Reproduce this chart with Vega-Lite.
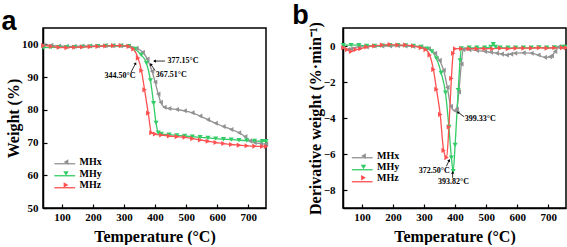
{
  "$schema": "https://vega.github.io/schema/vega-lite/v6.json",
  "padding": {"left": 0, "top": 0, "right": 0, "bottom": 0},
  "background": "white",
  "config": {
    "font": "Liberation Serif",
    "view": {"stroke": "black", "strokeWidth": 1.5},
    "axis": {"domainColor": "black", "domainWidth": 1.5, "tickColor": "black", "tickWidth": 1.2, "tickSize": -4, "labelPadding": 8, "labelFont": "Liberation Serif", "labelFontSize": 11, "labelFontWeight": "bold", "labelColor": "black", "titleFont": "Liberation Serif", "titleFontSize": 16, "titleFontWeight": "bold", "titleColor": "black", "grid": false},
    "title": {"font": "Liberation Sans", "fontSize": 27, "fontWeight": "bold", "anchor": "start", "color": "black", "offset": -8},
    "text": {"font": "Liberation Serif", "fontSize": 8, "fontWeight": "bold", "color": "black"},
    "legend": {"orient": "none", "title": null, "padding": 0, "labelFont": "Liberation Serif", "labelFontSize": 10, "labelFontWeight": "bold", "labelColor": "black", "symbolSize": 30, "labelOffset": 8.5, "symbolStrokeWidth": 1.3, "symbolOpacity": 1}
  },
  "datasets": {
    "tga": [
      {"T": 40, "v": 99.8, "s": "MHx"}, {"T": 65, "v": 99.7, "s": "MHx"}, {"T": 90, "v": 99.5, "s": "MHx"}, {"T": 115, "v": 99.4, "s": "MHx"}, {"T": 140, "v": 99.4, "s": "MHx"}, {"T": 165, "v": 99.5, "s": "MHx"}, {"T": 190, "v": 99.5, "s": "MHx"}, {"T": 215, "v": 99.5, "s": "MHx"}, {"T": 240, "v": 99.6, "s": "MHx"}, {"T": 265, "v": 99.6, "s": "MHx"}, {"T": 290, "v": 99.6, "s": "MHx"}, {"T": 315, "v": 99.4, "s": "MHx"}, {"T": 340, "v": 98.8, "s": "MHx"}, {"T": 360, "v": 97.6, "s": "MHx"}, {"T": 375, "v": 95.5, "s": "MHx"}, {"T": 390, "v": 91.8, "s": "MHx"}, {"T": 400, "v": 88.5, "s": "MHx"}, {"T": 410, "v": 84.8, "s": "MHx"}, {"T": 418, "v": 82.3, "s": "MHx"}, {"T": 430, "v": 80.8, "s": "MHx"}, {"T": 445, "v": 80.4, "s": "MHx"}, {"T": 470, "v": 80.1, "s": "MHx"}, {"T": 495, "v": 79.7, "s": "MHx"}, {"T": 520, "v": 79.1, "s": "MHx"}, {"T": 545, "v": 78.1, "s": "MHx"}, {"T": 570, "v": 77.0, "s": "MHx"}, {"T": 595, "v": 75.9, "s": "MHx"}, {"T": 620, "v": 74.9, "s": "MHx"}, {"T": 645, "v": 74.0, "s": "MHx"}, {"T": 670, "v": 73.0, "s": "MHx"}, {"T": 690, "v": 71.8, "s": "MHx"}, {"T": 705, "v": 70.5, "s": "MHx"}, {"T": 720, "v": 70.0, "s": "MHx"}, {"T": 740, "v": 69.7, "s": "MHx"}, {"T": 757, "v": 69.6, "s": "MHx"},
      {"T": 40, "v": 99.0, "s": "MHy"}, {"T": 65, "v": 99.1, "s": "MHy"}, {"T": 90, "v": 99.1, "s": "MHy"}, {"T": 115, "v": 99.1, "s": "MHy"}, {"T": 140, "v": 99.1, "s": "MHy"}, {"T": 165, "v": 99.2, "s": "MHy"}, {"T": 190, "v": 99.3, "s": "MHy"}, {"T": 215, "v": 99.4, "s": "MHy"}, {"T": 240, "v": 99.5, "s": "MHy"}, {"T": 265, "v": 99.5, "s": "MHy"}, {"T": 290, "v": 99.5, "s": "MHy"}, {"T": 315, "v": 99.4, "s": "MHy"}, {"T": 335, "v": 98.6, "s": "MHy"}, {"T": 355, "v": 96.8, "s": "MHy"}, {"T": 372, "v": 94.3, "s": "MHy"}, {"T": 385, "v": 89.0, "s": "MHy"}, {"T": 395, "v": 82.0, "s": "MHy"}, {"T": 403, "v": 76.0, "s": "MHy"}, {"T": 410, "v": 73.0, "s": "MHy"}, {"T": 420, "v": 72.6, "s": "MHy"}, {"T": 445, "v": 72.4, "s": "MHy"}, {"T": 470, "v": 72.2, "s": "MHy"}, {"T": 495, "v": 72.0, "s": "MHy"}, {"T": 520, "v": 71.8, "s": "MHy"}, {"T": 545, "v": 71.6, "s": "MHy"}, {"T": 570, "v": 71.4, "s": "MHy"}, {"T": 595, "v": 71.2, "s": "MHy"}, {"T": 620, "v": 71.0, "s": "MHy"}, {"T": 645, "v": 70.9, "s": "MHy"}, {"T": 670, "v": 70.7, "s": "MHy"}, {"T": 695, "v": 70.6, "s": "MHy"}, {"T": 720, "v": 70.5, "s": "MHy"}, {"T": 745, "v": 70.4, "s": "MHy"}, {"T": 757, "v": 70.4, "s": "MHy"},
      {"T": 40, "v": 99.6, "s": "MHz"}, {"T": 65, "v": 99.4, "s": "MHz"}, {"T": 90, "v": 99.1, "s": "MHz"}, {"T": 115, "v": 99.0, "s": "MHz"}, {"T": 140, "v": 99.1, "s": "MHz"}, {"T": 165, "v": 99.2, "s": "MHz"}, {"T": 190, "v": 99.3, "s": "MHz"}, {"T": 215, "v": 99.4, "s": "MHz"}, {"T": 240, "v": 99.5, "s": "MHz"}, {"T": 265, "v": 99.6, "s": "MHz"}, {"T": 290, "v": 99.6, "s": "MHz"}, {"T": 315, "v": 99.4, "s": "MHz"}, {"T": 330, "v": 98.6, "s": "MHz"}, {"T": 345, "v": 95.8, "s": "MHz"}, {"T": 356, "v": 92.0, "s": "MHz"}, {"T": 366, "v": 86.1, "s": "MHz"}, {"T": 378, "v": 79.0, "s": "MHz"}, {"T": 388, "v": 73.0, "s": "MHz"}, {"T": 400, "v": 72.6, "s": "MHz"}, {"T": 420, "v": 72.3, "s": "MHz"}, {"T": 445, "v": 72.0, "s": "MHz"}, {"T": 470, "v": 71.8, "s": "MHz"}, {"T": 495, "v": 71.6, "s": "MHz"}, {"T": 520, "v": 71.2, "s": "MHz"}, {"T": 545, "v": 70.8, "s": "MHz"}, {"T": 570, "v": 70.4, "s": "MHz"}, {"T": 595, "v": 70.0, "s": "MHz"}, {"T": 620, "v": 69.7, "s": "MHz"}, {"T": 645, "v": 69.4, "s": "MHz"}, {"T": 670, "v": 69.2, "s": "MHz"}, {"T": 695, "v": 69.0, "s": "MHz"}, {"T": 720, "v": 68.9, "s": "MHz"}, {"T": 745, "v": 68.8, "s": "MHz"}, {"T": 757, "v": 68.8, "s": "MHz"}
    ],
    "dtg": [
      {"T": 40, "v": -0.1, "s": "MHx"}, {"T": 55, "v": -0.2, "s": "MHx"}, {"T": 65, "v": -0.15, "s": "MHx"}, {"T": 90, "v": -0.05, "s": "MHx"}, {"T": 115, "v": -0.05, "s": "MHx"}, {"T": 140, "v": 0.0, "s": "MHx"}, {"T": 165, "v": 0.0, "s": "MHx"}, {"T": 190, "v": 0.0, "s": "MHx"}, {"T": 215, "v": 0.02, "s": "MHx"}, {"T": 240, "v": 0.0, "s": "MHx"}, {"T": 265, "v": -0.02, "s": "MHx"}, {"T": 290, "v": -0.05, "s": "MHx"}, {"T": 315, "v": -0.15, "s": "MHx"}, {"T": 335, "v": -0.4, "s": "MHx"}, {"T": 350, "v": -0.8, "s": "MHx"}, {"T": 363, "v": -1.35, "s": "MHx"}, {"T": 375, "v": -2.3, "s": "MHx"}, {"T": 386, "v": -3.35, "s": "MHx"}, {"T": 399.33, "v": -3.6, "s": "MHx"}, {"T": 405, "v": -3.5, "s": "MHx"}, {"T": 412, "v": -2.55, "s": "MHx"}, {"T": 420, "v": -1.0, "s": "MHx"}, {"T": 426, "v": -0.2, "s": "MHx"}, {"T": 445, "v": -0.2, "s": "MHx"}, {"T": 470, "v": -0.25, "s": "MHx"}, {"T": 496, "v": -0.3, "s": "MHx"}, {"T": 515, "v": -0.35, "s": "MHx"}, {"T": 534, "v": -0.4, "s": "MHx"}, {"T": 550, "v": -0.45, "s": "MHx"}, {"T": 566, "v": -0.5, "s": "MHx"}, {"T": 580, "v": -0.45, "s": "MHx"}, {"T": 593, "v": -0.4, "s": "MHx"}, {"T": 620, "v": -0.38, "s": "MHx"}, {"T": 646, "v": -0.4, "s": "MHx"}, {"T": 668, "v": -0.5, "s": "MHx"}, {"T": 689, "v": -0.63, "s": "MHx"}, {"T": 705, "v": -0.6, "s": "MHx"}, {"T": 711, "v": -0.55, "s": "MHx"}, {"T": 722, "v": -0.3, "s": "MHx"}, {"T": 733, "v": -0.05, "s": "MHx"}, {"T": 745, "v": -0.05, "s": "MHx"}, {"T": 757, "v": -0.05, "s": "MHx"},
      {"T": 40, "v": 0.05, "s": "MHy"}, {"T": 65, "v": 0.05, "s": "MHy"}, {"T": 90, "v": 0.05, "s": "MHy"}, {"T": 115, "v": 0.0, "s": "MHy"}, {"T": 140, "v": 0.0, "s": "MHy"}, {"T": 165, "v": 0.02, "s": "MHy"}, {"T": 190, "v": 0.05, "s": "MHy"}, {"T": 215, "v": 0.05, "s": "MHy"}, {"T": 240, "v": 0.03, "s": "MHy"}, {"T": 265, "v": 0.0, "s": "MHy"}, {"T": 290, "v": -0.05, "s": "MHy"}, {"T": 310, "v": -0.15, "s": "MHy"}, {"T": 325, "v": -0.3, "s": "MHy"}, {"T": 340, "v": -0.7, "s": "MHy"}, {"T": 355, "v": -1.5, "s": "MHy"}, {"T": 369, "v": -2.6, "s": "MHy"}, {"T": 380, "v": -4.5, "s": "MHy"}, {"T": 388, "v": -6.2, "s": "MHy"}, {"T": 393.82, "v": -6.95, "s": "MHy"}, {"T": 400, "v": -5.5, "s": "MHy"}, {"T": 410, "v": -2.45, "s": "MHy"}, {"T": 416, "v": -0.8, "s": "MHy"}, {"T": 420, "v": -0.13, "s": "MHy"}, {"T": 445, "v": -0.1, "s": "MHy"}, {"T": 470, "v": -0.1, "s": "MHy"}, {"T": 495, "v": -0.1, "s": "MHy"}, {"T": 515, "v": -0.05, "s": "MHy"}, {"T": 523, "v": 0.1, "s": "MHy"}, {"T": 530, "v": -0.05, "s": "MHy"}, {"T": 545, "v": -0.1, "s": "MHy"}, {"T": 570, "v": -0.1, "s": "MHy"}, {"T": 595, "v": -0.1, "s": "MHy"}, {"T": 620, "v": -0.1, "s": "MHy"}, {"T": 645, "v": -0.1, "s": "MHy"}, {"T": 670, "v": -0.08, "s": "MHy"}, {"T": 695, "v": -0.1, "s": "MHy"}, {"T": 720, "v": -0.08, "s": "MHy"}, {"T": 745, "v": -0.05, "s": "MHy"}, {"T": 757, "v": -0.05, "s": "MHy"},
      {"T": 40, "v": -0.1, "s": "MHz"}, {"T": 52, "v": -0.2, "s": "MHz"}, {"T": 65, "v": -0.3, "s": "MHz"}, {"T": 80, "v": -0.2, "s": "MHz"}, {"T": 95, "v": -0.15, "s": "MHz"}, {"T": 115, "v": -0.05, "s": "MHz"}, {"T": 140, "v": 0.0, "s": "MHz"}, {"T": 165, "v": 0.05, "s": "MHz"}, {"T": 190, "v": 0.08, "s": "MHz"}, {"T": 215, "v": 0.05, "s": "MHz"}, {"T": 240, "v": 0.05, "s": "MHz"}, {"T": 265, "v": 0.0, "s": "MHz"}, {"T": 290, "v": -0.1, "s": "MHz"}, {"T": 305, "v": -0.2, "s": "MHz"}, {"T": 318, "v": -0.5, "s": "MHz"}, {"T": 330, "v": -1.3, "s": "MHz"}, {"T": 340, "v": -2.4, "s": "MHz"}, {"T": 352, "v": -3.8, "s": "MHz"}, {"T": 363, "v": -5.8, "s": "MHz"}, {"T": 372.5, "v": -6.2, "s": "MHz"}, {"T": 380, "v": -4.5, "s": "MHz"}, {"T": 388, "v": -1.8, "s": "MHz"}, {"T": 394, "v": -0.4, "s": "MHz"}, {"T": 400, "v": -0.15, "s": "MHz"}, {"T": 420, "v": -0.15, "s": "MHz"}, {"T": 445, "v": -0.15, "s": "MHz"}, {"T": 470, "v": -0.15, "s": "MHz"}, {"T": 495, "v": -0.15, "s": "MHz"}, {"T": 520, "v": -0.15, "s": "MHz"}, {"T": 545, "v": -0.12, "s": "MHz"}, {"T": 570, "v": -0.15, "s": "MHz"}, {"T": 595, "v": -0.12, "s": "MHz"}, {"T": 620, "v": -0.12, "s": "MHz"}, {"T": 645, "v": -0.12, "s": "MHz"}, {"T": 670, "v": -0.1, "s": "MHz"}, {"T": 695, "v": -0.12, "s": "MHz"}, {"T": 720, "v": -0.1, "s": "MHz"}, {"T": 745, "v": -0.1, "s": "MHz"}, {"T": 757, "v": -0.1, "s": "MHz"}
    ],
    "notesA": [
      {"T": 440, "v": 94.9, "text": "377.15°C"},
      {"T": 402, "v": 90.6, "text": "367.51°C"},
      {"T": 237, "v": 90.2, "text": "344.50°C"}
    ],
    "arrowsA": [
      {"T": 432, "v": 94.9, "T2": 398, "v2": 94.9, "dir": "left"},
      {"T": 400, "v": 92.0, "T2": 386, "v2": 93.9, "dir": "upleft"},
      {"T": 322, "v": 91.4, "T2": 337, "v2": 94.2, "dir": "upright"}
    ],
    "notesB": [
      {"T": 431, "v": -4.06, "text": "399.33°C"},
      {"T": 283, "v": -6.92, "text": "372.50°C"},
      {"T": 345, "v": -7.57, "text": "393.82°C"}
    ],
    "arrowsB": [
      {"T": 429, "v": -3.93, "T2": 409, "v2": -3.68, "dir": "upleft"},
      {"T": 372, "v": -6.68, "T2": 381, "v2": -6.35, "dir": "upright"},
      {"T": 392, "v": -7.32, "T2": 392, "v2": -7.02, "dir": "up"}
    ]
  },
  "bounds": "flush",
  "spacing": 77,
  "resolve": {"scale": {"stroke": "independent", "fill": "independent", "shape": "independent"}, "legend": {"stroke": "independent", "fill": "independent", "shape": "independent"}},
  "hconcat": [
    {
      "title": {"text": "a", "dx": -4, "offset": -8},
      "width": 223,
      "height": 180,
      "encoding": {
        "x": {"field": "T", "type": "quantitative", "scale": {"domain": [39, 757], "nice": false, "zero": false}, "axis": {"values": [100, 200, 300, 400, 500, 600, 700], "title": "Temperature (°C)", "labelPadding": 7, "titlePadding": 6}},
        "y": {"field": "v", "type": "quantitative", "scale": {"domain": [50, 105], "nice": false, "zero": false}, "axis": {"values": [50, 60, 70, 80, 90, 100], "title": "Weight (%)", "labelPadding": 9, "titlePadding": 0}}
      },
      "layer": [
        {
          "data": {"name": "tga"},
          "mark": {"type": "line", "strokeWidth": 1.3, "interpolate": "monotone"},
          "encoding": {
            "stroke": {"field": "s", "type": "nominal", "scale": {"range": ["#929292", "#33cc66", "#ff5050"]},
              "legend": {"legendX": 14.75, "legendY": 128.75, "rowPadding": 0, "symbolSize": 144, "symbolType": "M-1.73,0L1.73,0", "labelExpr": "''"}}
          }
        },
        {
          "data": {"name": "tga"},
          "mark": {"type": "point", "filled": true, "size": 26, "opacity": 1},
          "encoding": {
            "fill": {"field": "s", "type": "nominal", "scale": {"domain": ["MHx", "MHy", "MHz"], "range": ["#929292", "#33cc66", "#ff5050"]},
              "legend": {"legendX": 18, "legendY": 129, "rowPadding": 0.5}},
            "shape": {"field": "s", "type": "nominal", "scale": {"domain": ["MHx", "MHy", "MHz"], "range": ["triangle-left", "triangle-down", "triangle-right"]},
              "legend": {"legendX": 18, "legendY": 129, "rowPadding": 0.5}}
          }
        },
        {
          "data": {"name": "notesA"},
          "mark": {"type": "text", "align": "left", "baseline": "middle"},
          "encoding": {"text": {"field": "text"}}
        },
        {
          "data": {"name": "arrowsA"},
          "mark": {"type": "rule", "color": "black", "strokeWidth": 0.8},
          "encoding": {"x2": {"field": "T2"}, "y2": {"field": "v2"}}
        },
        {
          "data": {"name": "arrowsA"},
          "transform": [{"filter": "datum.dir === 'left'"}],
          "mark": {"type": "point", "shape": "triangle-up", "filled": true, "color": "black", "size": 10, "opacity": 1, "angle": 270},
          "encoding": {"x": {"field": "T2", "type": "quantitative"}, "y": {"field": "v2", "type": "quantitative"}}
        },
        {
          "data": {"name": "arrowsA"},
          "transform": [{"filter": "datum.dir === 'upleft'"}],
          "mark": {"type": "point", "shape": "triangle-up", "filled": true, "color": "black", "size": 10, "opacity": 1, "angle": 320},
          "encoding": {"x": {"field": "T2", "type": "quantitative"}, "y": {"field": "v2", "type": "quantitative"}}
        },
        {
          "data": {"name": "arrowsA"},
          "transform": [{"filter": "datum.dir === 'upright'"}],
          "mark": {"type": "point", "shape": "triangle-up", "filled": true, "color": "black", "size": 10, "opacity": 1, "angle": 28},
          "encoding": {"x": {"field": "T2", "type": "quantitative"}, "y": {"field": "v2", "type": "quantitative"}}
        }
      ]
    },
    {
      "title": {"text": "b", "dx": -15, "offset": -8},
      "width": 223,
      "height": 180,
      "encoding": {
        "x": {"field": "T", "type": "quantitative", "scale": {"domain": [39, 757], "nice": false, "zero": false}, "axis": {"values": [100, 200, 300, 400, 500, 600, 700], "title": "Temperature (°C)", "labelPadding": 7, "titlePadding": 6}},
        "y": {"field": "v", "type": "quantitative", "scale": {"domain": [-9, 1], "nice": false, "zero": false}, "axis": {"values": [-8, -6, -4, -2, 0], "title": "Derivative weight (%·min⁻¹)", "labelPadding": 12, "titlePadding": 0}}
      },
      "layer": [
        {
          "data": {"name": "dtg"},
          "mark": {"type": "line", "strokeWidth": 1.3, "interpolate": "monotone"},
          "encoding": {
            "stroke": {"field": "s", "type": "nominal", "scale": {"range": ["#929292", "#33cc66", "#ff5050"]},
              "legend": {"legendX": 12.25, "legendY": 122.75, "rowPadding": -1.5, "symbolSize": 144, "symbolType": "M-1.73,0L1.73,0", "labelExpr": "''"}}
          }
        },
        {
          "data": {"name": "dtg"},
          "mark": {"type": "point", "filled": true, "size": 26, "opacity": 1},
          "encoding": {
            "fill": {"field": "s", "type": "nominal", "scale": {"domain": ["MHx", "MHy", "MHz"], "range": ["#929292", "#33cc66", "#ff5050"]},
              "legend": {"legendX": 15.5, "legendY": 123, "rowPadding": -0.3}},
            "shape": {"field": "s", "type": "nominal", "scale": {"domain": ["MHx", "MHy", "MHz"], "range": ["triangle-left", "triangle-down", "triangle-right"]},
              "legend": {"legendX": 15.5, "legendY": 123, "rowPadding": -0.3}}
          }
        },
        {
          "data": {"name": "notesB"},
          "mark": {"type": "text", "align": "left", "baseline": "middle"},
          "encoding": {"text": {"field": "text"}}
        },
        {
          "data": {"name": "arrowsB"},
          "mark": {"type": "rule", "color": "black", "strokeWidth": 0.8},
          "encoding": {"x2": {"field": "T2"}, "y2": {"field": "v2"}}
        },
        {
          "data": {"name": "arrowsB"},
          "transform": [{"filter": "datum.dir === 'up'"}],
          "mark": {"type": "point", "shape": "triangle-up", "filled": true, "color": "black", "size": 10, "opacity": 1, "angle": 0},
          "encoding": {"x": {"field": "T2", "type": "quantitative"}, "y": {"field": "v2", "type": "quantitative"}}
        },
        {
          "data": {"name": "arrowsB"},
          "transform": [{"filter": "datum.dir === 'upleft'"}],
          "mark": {"type": "point", "shape": "triangle-up", "filled": true, "color": "black", "size": 10, "opacity": 1, "angle": 306},
          "encoding": {"x": {"field": "T2", "type": "quantitative"}, "y": {"field": "v2", "type": "quantitative"}}
        },
        {
          "data": {"name": "arrowsB"},
          "transform": [{"filter": "datum.dir === 'upright'"}],
          "mark": {"type": "point", "shape": "triangle-up", "filled": true, "color": "black", "size": 10, "opacity": 1, "angle": 28},
          "encoding": {"x": {"field": "T2", "type": "quantitative"}, "y": {"field": "v2", "type": "quantitative"}}
        }
      ]
    }
  ]
}
